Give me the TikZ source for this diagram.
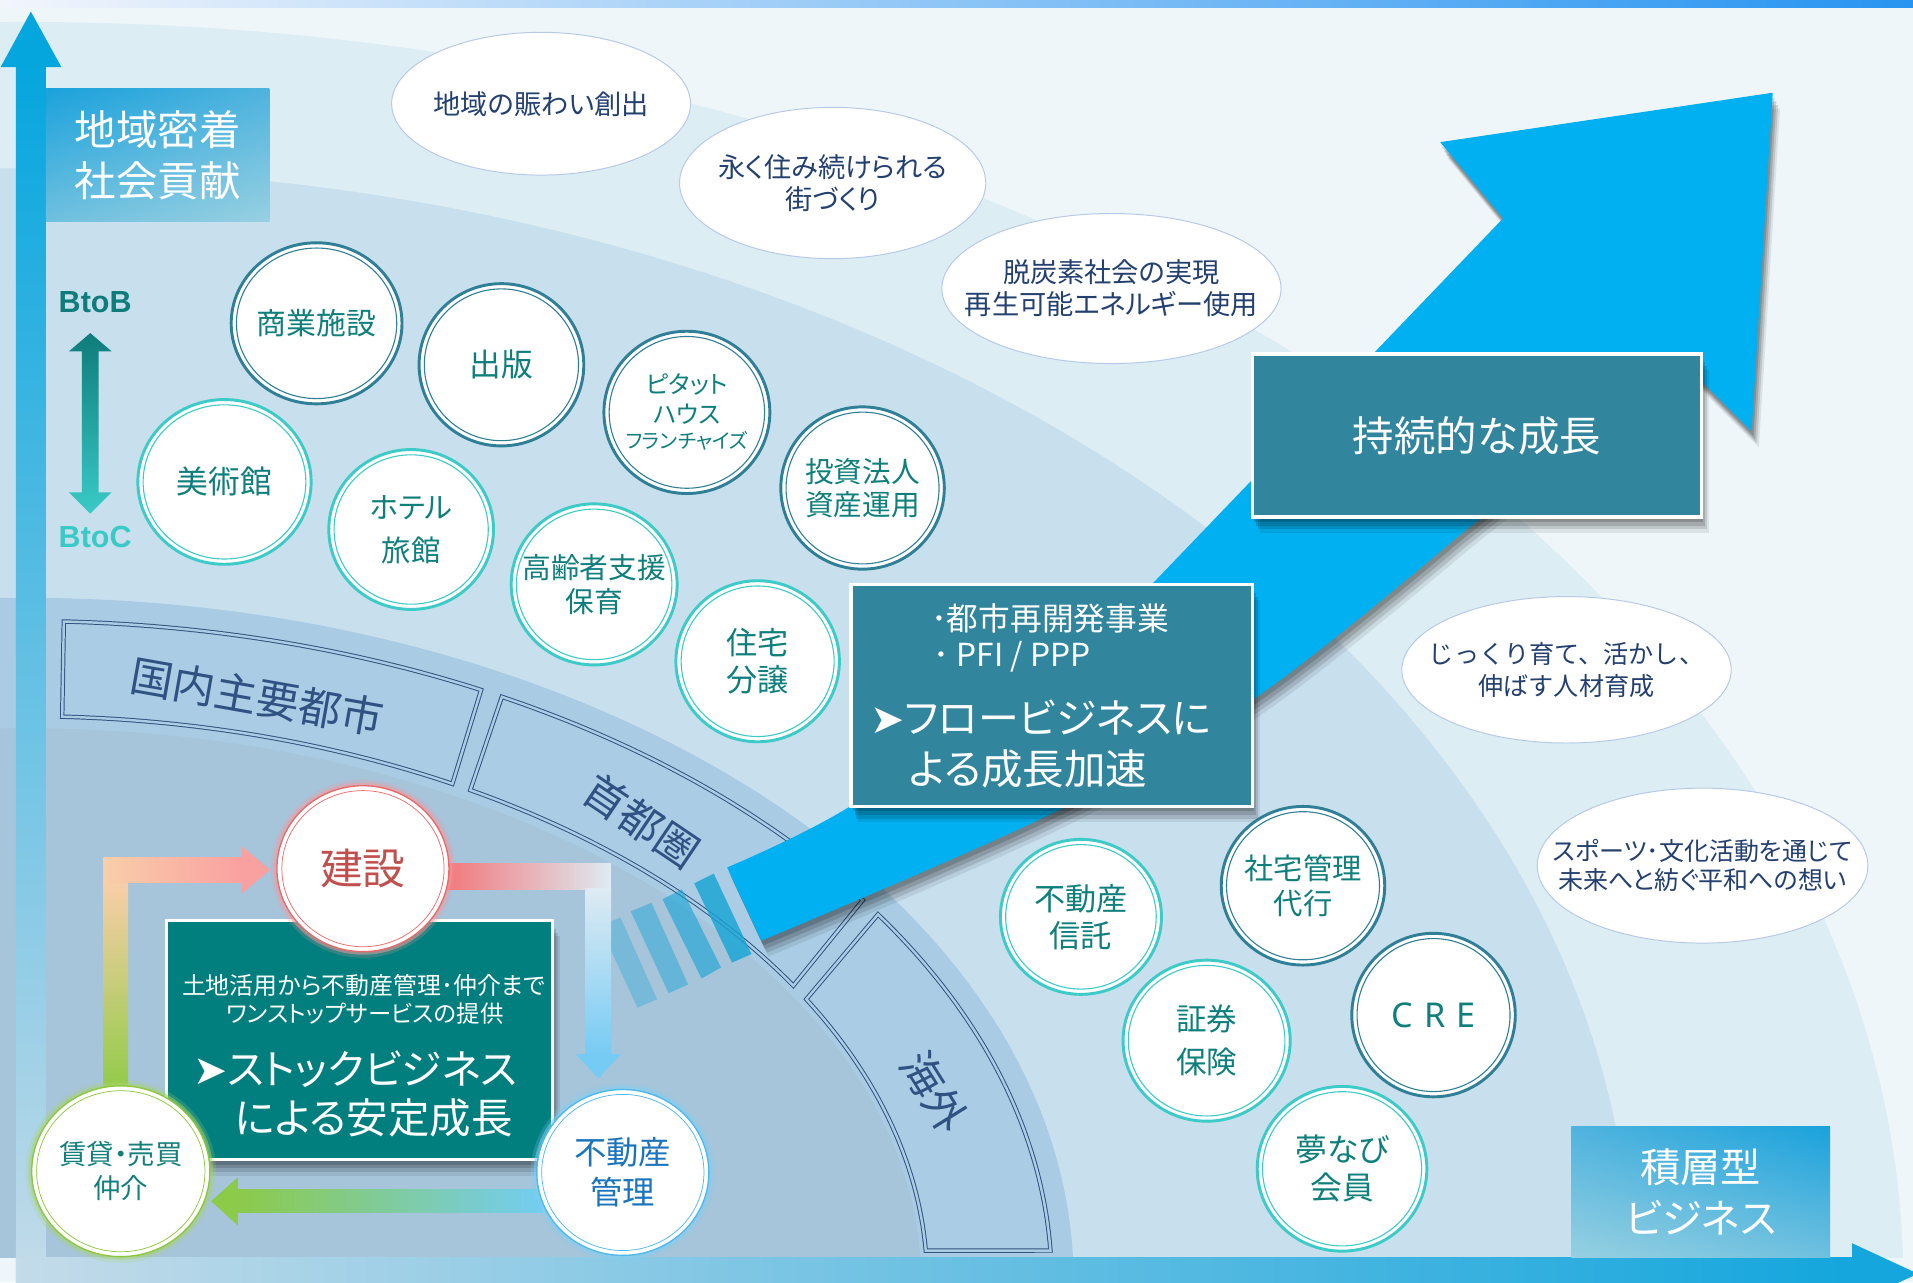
\documentclass[tikz,border=0pt]{standalone}
\usepackage{fontspec}
\setmainfont{Noto Sans CJK JP}[RawFeature=+palt]
\newfontfamily\nopalt{Noto Sans CJK JP}
\newfontfamily\symfont{DejaVu Sans}
\newfontfamily\latfont{Noto Sans}
\newfontfamily\btobfont{Liberation Sans}
\usetikzlibrary{shapes.geometric,calc,shadings}
\pgfdeclarelayer{back}
\pgfdeclarelayer{mid}
\pgfsetlayers{back,mid,main}

\definecolor{bgl}{HTML}{EEF6FA}
\definecolor{bandB}{HTML}{DCEDF3}
\definecolor{bandC}{HTML}{C8DFEE}
\definecolor{bandArc}{HTML}{A9CBE3}
\definecolor{bandIn}{HTML}{A6C4DA}
\definecolor{arcfill}{HTML}{AACCE4}
\definecolor{arcline}{HTML}{34527E}
\definecolor{arctext}{HTML}{2F5283}
\definecolor{arrowblue}{HTML}{00B0F0}
\definecolor{stripeblue}{HTML}{14A4D4}
\definecolor{boxteal}{HTML}{31859C}
\definecolor{stockteal}{HTML}{007F7E}
\definecolor{ringdark}{HTML}{2F7F96}
\definecolor{ringturq}{HTML}{3CCBC6}
\definecolor{circtext}{HTML}{0F7F7C}
\definecolor{bubline}{HTML}{B7C9E6}
\definecolor{bubtext}{HTML}{23406F}
\definecolor{topL}{HTML}{F2F5FC}
\definecolor{topR}{HTML}{2794F1}
\definecolor{axtop}{HTML}{05A6DE}
\definecolor{axmid}{HTML}{6DC4E3}
\definecolor{axbot}{HTML}{C4DBE9}
\definecolor{axright}{HTML}{14A6DD}
\definecolor{btobc}{HTML}{0E7C7A}
\definecolor{btocc}{HTML}{3ACAC6}
\definecolor{cornerA}{HTML}{1AA2DC}
\definecolor{cornerB}{HTML}{4FB3DE}
\definecolor{cornerC}{HTML}{6FC0DF}
\definecolor{cornerD}{HTML}{97D0E1}
\definecolor{lgreen}{HTML}{92CB48}
\definecolor{lpeach}{HTML}{F9CEA9}
\definecolor{lpink}{HTML}{F9A0A0}
\definecolor{lred}{HTML}{F2787C}
\definecolor{lwhite}{HTML}{DEEBF3}
\definecolor{lblue}{HTML}{76CBF4}
\definecolor{lgreenb}{HTML}{8CCA4A}
\definecolor{lblueb}{HTML}{73CDF2}
\definecolor{kred}{HTML}{E8696C}
\definecolor{kglow}{HTML}{F59A9C}
\definecolor{ktext}{HTML}{C0504D}
\definecolor{mblue}{HTML}{4DB8EA}
\definecolor{mglow}{HTML}{7FD0F5}
\definecolor{mtext}{HTML}{1C75BC}
\definecolor{cgreen}{HTML}{8DC63F}
\definecolor{cglow}{HTML}{A8D46E}
\definecolor{ctext}{HTML}{157F7C}

\tikzset{
  softshadow/.style={
    preaction={draw=none,fill=black,opacity=.16,transform canvas={shift={(1.5pt,-4pt)}}},
    preaction={draw=none,fill=black,opacity=.14,transform canvas={shift={(3pt,-7pt)}}},
    preaction={draw=none,fill=black,opacity=.12,transform canvas={shift={(4.5pt,-10pt)}}},
    preaction={draw=none,fill=black,opacity=.08,transform canvas={shift={(6pt,-13pt)}}}},
  tealbox/.style={rectangle, fill=boxteal, draw=white, line width=3pt, inner sep=0pt, outer sep=0pt, softshadow},
  wtext/.style={text=white, inner sep=0pt},
  ringbase/.style={ellipse, fill=white, line width=2.4pt, inner sep=0pt, outer sep=0pt},
  circlabel/.style={align=center, text=circtext, inner sep=0pt, font=\fontsize{24.5}{30}\selectfont},
  bubbase/.style={ellipse, fill=white, draw=bubline, line width=0.8pt, inner sep=0pt, outer sep=0pt},
  bublabel/.style={align=center, text=bubtext, inner sep=0pt, font=\fontsize{22.3}{26.5}\selectfont},
  arcbox/.style={fill=arcfill, draw=arcline, line width=0.8pt, double=arcfill, double distance=2pt},
  arclabel/.style={text=arctext, inner sep=0pt, font=\fontsize{35}{40}\selectfont},
  loopc/.style={ellipse, fill=white, inner sep=0pt, outer sep=0pt, line width=1.1pt},
  glow/.style={preaction={draw=#1, line width=10pt, opacity=0.22},
               preaction={draw=#1, line width=5pt, opacity=0.5}},
}

\newcommand\ringnode[8]{%
  \node[ringbase, draw=#6, minimum width=#4pt, minimum height=#5pt,
        label={[circlabel,#7]center:{#8}}] (#1) at (#2,#3) {};
  \draw[#6, line width=0.9pt] (#1.center) ellipse[x radius={#4/2-4.3}, y radius={#5/2-4.3}];
}
\newcommand\bubnode[7]{%
  \node[bubbase, minimum width=#4pt, minimum height=#5pt,
        label={[bublabel,#6]center:{#7}}] (#1) at (#2,#3) {};
}

\begin{document}
\begin{tikzpicture}[x=1pt,y=-1pt]
\useasboundingbox (0,0) rectangle (1568,1051);

\begin{pgfonlayer}{back}
% background and bands
\fill[bgl] (0,0) rectangle (1568,1051);
\begin{scope}
  \clip (0,6) rectangle (1568,1031);
  \fill[bandB] (20,1051) ellipse[x radius=1540, y radius=1033];
  \fill[bandC] (20,1051) ellipse[x radius=1317, y radius=913];
  \fill[bandArc] (20,1051) ellipse[x radius=860, y radius=561];
  \fill[bandIn] (20,1051) ellipse[x radius=735, y radius=454];
\end{scope}
\shade[left color=topL, right color=topR] (0,0) rectangle (1568,6.5);

% curved area boxes
\draw[arcbox] plot[domain=87.8:63.6, samples=40, variable=\t] ({20+842*cos(\t)},{1051-542*sin(\t)})
  -- plot[domain=61.7:87.6, samples=40, variable=\t] ({20+740*cos(\t)},{1051-464*sin(\t)}) -- cycle;
\draw[arcbox] plot[domain=62.3:35.3, samples=40, variable=\t] ({20+842*cos(\t)},{1051-542*sin(\t)})
  -- plot[domain=31.6:60.4, samples=40, variable=\t] ({20+740*cos(\t)},{1051-464*sin(\t)}) -- cycle;
\draw[arcbox] plot[domain=33.8:2.75, samples=40, variable=\t] ({20+842*cos(\t)},{1051-542*sin(\t)})
  -- plot[domain=3.2:30, samples=40, variable=\t] ({20+740*cos(\t)},{1051-464*sin(\t)}) -- cycle;
\node[arclabel, rotate=-10] (kokunai) at (211,571) {国内主要都市};
\node[arclabel, rotate=-34] (shutoken) at (526,673) {首都圏};
\node[arclabel, rotate=-58] (kaigai) at (766,895) {海外};

% speech ellipses
\bubnode{bub1}{443.5}{85}{245}{117}{}{地域の賑わい創出}
\bubnode{bub2}{682.5}{150}{251}{124}{}{永く住み続けられる\\街づくり}
\bubnode{bub3}{911}{236.5}{278}{123}{}{脱炭素社会の実現\\再生可能エネルギー使用}
\bubnode{bub4}{1284}{549}{270}{120}{font=\nopalt\fontsize{20.6}{26.5}\selectfont}{じっくり育て、活かし、\\伸ばす人材育成}
\bubnode{bub5}{1395.5}{709.5}{271}{127}{font=\fontsize{20.5}{24}\selectfont}{スポーツ･文化活動を通じて\\未来へと紡ぐ平和への想い}

% stripes behind the arrow tail
\fill[stripeblue, opacity=0.80] (569,724) -- (585,716) -- (616,782) -- (600,789) -- cycle;
\fill[stripeblue, opacity=0.60] (543,737) -- (559,729) -- (591,793) -- (575,802) -- cycle;
\fill[stripeblue, opacity=0.45] (517,747) -- (534,740) -- (564,807) -- (548,814) -- cycle;
\fill[stripeblue, opacity=0.32] (491.5,759) -- (508.5,752) -- (538.5,819) -- (522.5,826) -- cycle;

% growth arrow
\fill[arrowblue, softshadow]
  plot[smooth, tension=0.6] coordinates {(596,711) (695,662) (820,572) (946,477)}
  -- (1232,179) -- (1180.5,116.5) -- (1453,76) -- (1435.7,353.6) -- (1376.5,294.5)
  -- plot[smooth, tension=0.6] coordinates {(1196,439) (1029,572) (864,666) (624,771)}
  -- cycle;

% flow business box
\node[tealbox, minimum width=329pt, minimum height=182pt] (flow) at (862,570) {};
\node[wtext, anchor=west, font=\fontsize{26}{30}\selectfont] (flow1) at (763,507) {･都市再開発事業};
\node[wtext, anchor=west, font=\fontsize{26}{30}\selectfont] (flow2) at (765,538) {･ PFI / PPP};
\node[wtext, anchor=west, font=\fontsize{33.5}{36}\selectfont] (flow3) at (713,588) {{\symfont ➤}フロービジネスに};
\node[wtext, anchor=west, font=\fontsize{34}{36}\selectfont] (flow4) at (745,630) {よる成長加速};

% sustainable growth box
\node[tealbox, minimum width=368pt, minimum height=134pt, wtext, font=\fontsize{34}{40}\selectfont] (jizoku) at (1210.5,357) {持続的な成長};

% business circles
\ringnode{shogyo}{259.5}{265}{140}{132}{ringdark}{}{商業施設}
\ringnode{shuppan}{411}{299}{135}{133}{ringdark}{font=\fontsize{26}{30}\selectfont}{出版}
\ringnode{pitat}{563}{338}{136}{133}{ringdark}{font=\fontsize{20}{24}\selectfont}{ピタット\\ハウス\\[-3pt]{\fontsize{16.5}{19}\selectfont フランチャイズ}}
\ringnode{toushi}{707}{400}{134}{133}{ringdark}{font=\fontsize{23.5}{27.5}\selectfont}{投資法人\\資産運用}
\ringnode{bijutsu}{184}{395}{142}{135}{ringturq}{font=\fontsize{26}{30}\selectfont}{美術館}
\ringnode{hotel}{337}{434}{135}{131}{ringturq}{font=\fontsize{24}{35}\selectfont}{ホテル\\旅館}
\ringnode{koureisha}{487}{479}{136}{132}{ringturq}{font=\fontsize{23.5}{27.5}\selectfont}{高齢者支援\\保育}
\ringnode{jutaku}{621}{542}{134}{132}{ringturq}{font=\fontsize{25.5}{31}\selectfont}{住宅\\分譲}
\ringnode{shintaku}{886}{751.5}{132}{127}{ringturq}{font=\fontsize{25.5}{30.5}\selectfont}{不動産\\信託}
\ringnode{shataku}{1068}{726}{134}{130}{ringdark}{font=\fontsize{24}{28.5}\selectfont}{社宅管理\\代行}
\ringnode{shoken}{989}{853}{137}{132}{ringturq}{font=\fontsize{25}{35}\selectfont}{証券\\保険}
\ringnode{cre}{1175}{832}{134}{134}{ringdark}{font=\latfont\fontsize{28}{32}\selectfont}{C\hspace{9pt}R\hspace{9pt}E}
\ringnode{yumenavi}{1100}{958}{139}{135}{ringturq}{font=\fontsize{26}{31}\selectfont}{夢なび\\会員}

% axes
\shade[top color=axtop, middle color=axmid, bottom color=axbot] (13,54) rectangle (37.7,1051);
\fill[axtop] (0.5,55) -- (25.3,9.5) -- (50.3,55) -- cycle;
\shade[left color=axbot, right color=axright] (13,1031) rectangle (1519,1056);
\fill[axright] (1518,1019) -- (1572,1044) -- (1518,1069) -- cycle;

% corner labels
\node[rectangle, minimum width=183pt, minimum height=109pt, inner sep=0pt,
      upper left=cornerA, upper right=cornerB, lower left=cornerC, lower right=cornerD,
      align=center, text=white, font=\fontsize{34}{42}\selectfont] (chiiki) at (129.2,127) {地域密着\\社会貢献};
\node[rectangle, minimum width=212pt, minimum height=108pt, inner sep=0pt,
      upper left=cornerB, upper right=cornerA, lower left=cornerD, lower right=cornerC,
      align=center, text=white, font=\fontsize{33}{42}\selectfont] (sekiso) at (1394,977) {積層型\\ビジネス};

% BtoB / BtoC
\node[text=btobc, inner sep=0pt, font=\btobfont\bfseries\fontsize{25}{30}\selectfont] (btob) at (78,248) {BtoB};
\node[text=btocc, inner sep=0pt, font=\btobfont\bfseries\fontsize{25}{30}\selectfont] (btoc) at (78,440) {BtoC};
\shade[top color=btobc, bottom color=btocc]
  (74,273) -- (91.5,288) -- (80.8,288) -- (80.8,403.5) -- (91.5,403.5) -- (74,421)
  -- (56.5,403.5) -- (67.2,403.5) -- (67.2,288) -- (56.5,288) -- cycle;
\end{pgfonlayer}

% stock business box
\node[rectangle, fill=stockteal, draw=white, line width=2.5pt, inner sep=0pt,
      minimum width=316pt, minimum height=196pt, softshadow] (stock) at (294.75,852.5) {};
\node[wtext, font=\fontsize{19.6}{22}\selectfont] (stock1) at (298,808) {土地活用から不動産管理･仲介まで};
\node[wtext, font=\fontsize{19.2}{22}\selectfont] (stock2) at (299,831) {ワンストップサービスの提供};
\node[wtext, anchor=west, font=\fontsize{33.5}{36}\selectfont] (stock3) at (158,876) {{\symfont ➤}ストックビジネス};
\node[wtext, anchor=west, font=\fontsize{34}{36}\selectfont] (stock4) at (192,916) {による安定成長};

% loop circles
\node[loopc, draw=kred, glow=kglow, minimum width=141pt, minimum height=136pt,
      label={[text=ktext, font=\fontsize{35}{40}\selectfont]center:建設}] (kensetsu) at (297.5,712) {};
\draw[kred, line width=0.6pt] (kensetsu.center) ellipse[x radius=66.5, y radius=64];
\node[loopc, draw=mblue, glow=mglow, minimum width=141pt, minimum height=136pt,
      label={[text=mtext, align=center, font=\fontsize{26.5}{33}\selectfont]center:{不動産\\管理}}] (kanri) at (510.5,961) {};
\draw[mblue, line width=0.6pt] (kanri.center) ellipse[x radius=66.5, y radius=64];
\node[loopc, draw=cgreen, glow=cglow, minimum width=146pt, minimum height=140pt,
      label={[text=ctext, align=center, font=\fontsize{22.5}{28}\selectfont]center:{賃貸・売買\\仲介}}] (chintai) at (99,960) {};
\draw[cgreen, line width=0.6pt] (chintai.center) ellipse[x radius=69, y radius=66];

% loop arrows
\begin{pgfonlayer}{mid}
\shade[bottom color=lgreen, top color=lpeach] (85,722) rectangle (105,893);
\shade[left color=lpeach, right color=lpink] (85,703) rectangle (199,723);
\fill[lpink] (198,693.5) -- (221.5,713) -- (198,732.5) -- cycle;
\shade[left color=lred, right color=lwhite] (366,708) rectangle (501,729);
\shade[top color=lwhite, bottom color=lblue] (480,728) rectangle (501,865);
\fill[lblue] (472,864) -- (509,864) -- (490.5,884) -- cycle;
\shade[left color=lgreenb, right color=lblueb] (194,975) rectangle (445,994);
\fill[lgreenb] (195,965) -- (173,984.5) -- (195,1004.5) -- cycle;
\end{pgfonlayer}
\end{tikzpicture}
\end{document}
